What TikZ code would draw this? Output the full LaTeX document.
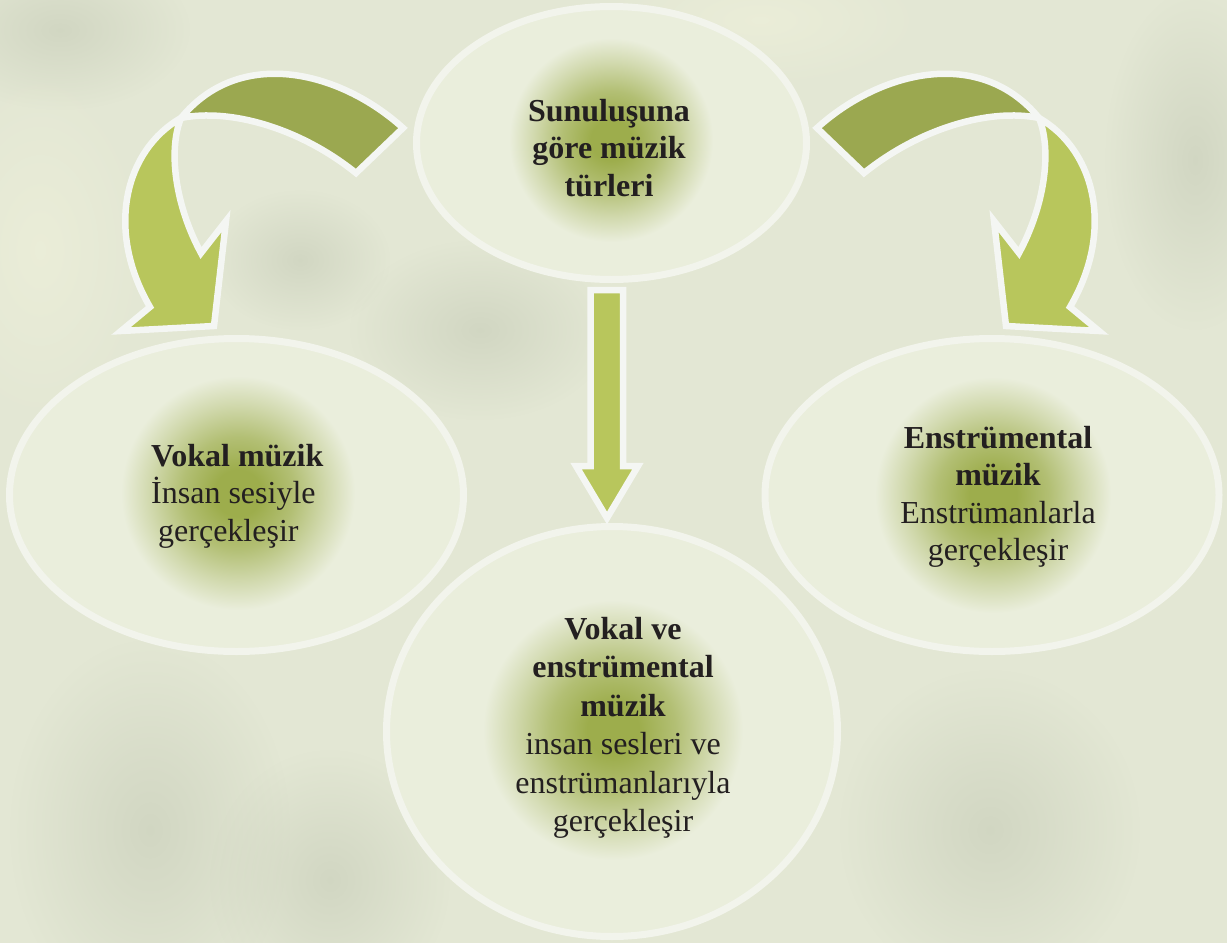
\documentclass[tikz,border=0pt]{standalone}
\usepackage{fontspec}
\setmainfont{Liberation Serif}
\usetikzlibrary{shapes.geometric,fadings}
\definecolor{bgc}{HTML}{E3E7D4}
\definecolor{blobc}{HTML}{C3C9B4}
\definecolor{blobl}{HTML}{EEF0DA}
\definecolor{ellfill}{HTML}{EAEEDC}
\definecolor{ellrim}{HTML}{F2F4EC}
\definecolor{glowc}{HTML}{9DAD4C}
\definecolor{darkarrow}{HTML}{9BA850}
\definecolor{lightarrow}{HTML}{B8C65C}
\definecolor{outlinec}{HTML}{F4F6F3}
\definecolor{txt}{HTML}{231F20}
\pgfdeclareradialshading{glow}{\pgfpoint{0bp}{0bp}}{color(0bp)=(glowc); color(5bp)=(glowc); color(12bp)=(glowc!72!ellfill); color(19bp)=(glowc!32!ellfill); color(25bp)=(ellfill); color(50bp)=(ellfill)}
\tikzfading[name=softfade, inner color=transparent!0, outer color=transparent!100]
\tikzset{
  bubble/.style={ellipse, fill=ellfill, draw=ellrim, line width=7pt, inner sep=0pt},
  arrowback/.style={fill=darkarrow, draw=outlinec, line width=6.5pt, line join=miter},
  arrowfront/.style={fill=lightarrow, draw=outlinec, line width=6.5pt, line join=miter},
  txtnode/.style={inner sep=0pt, anchor=base, text=txt, font=\fontsize{32}{37.5}\selectfont},
  blob/.style={fill=blobc, opacity=0.55, path fading=softfade},
  lblob/.style={fill=blobl, opacity=0.7, path fading=softfade}
}
\begin{document}
\begin{tikzpicture}[x=1pt, y=-1pt]
\useasboundingbox (0,0) rectangle (1227,943);
\fill[bgc] (0,0) rectangle (1227,943);
% soft background blobs
\fill[blob] (60,30) ellipse (130 and 80);
\fill[blob] (150,830) ellipse (140 and 190);
\fill[blob] (330,880) ellipse (120 and 130);
\fill[blob] (990,830) ellipse (150 and 160);
\fill[blob] (1195,160) ellipse (90 and 170);
\fill[blob] (480,330) ellipse (130 and 90);
\fill[blob] (300,260) ellipse (90 and 70);
\fill[lblob] (40,250) ellipse (110 and 180);
\fill[lblob] (760,20) ellipse (170 and 70);

% bubbles
\node[bubble, minimum width=390pt, minimum height=273pt] (top) at (611.5,143) {};
\node[bubble, minimum width=454pt, minimum height=313pt] (left) at (236.5,495) {};
\node[bubble, minimum width=454pt, minimum height=313pt] (right) at (992,495) {};
\node[bubble, minimum width=451pt, minimum height=410pt] (bottom) at (612,731.5) {};

% glows
\shade[shading=glow] (611,140) circle (102);
\shade[shading=glow] (238,493) circle (117);
\shade[shading=glow] (993,495) circle (118);
\shade[shading=glow] (613,730) circle (130);

% texts
\node[txtnode] (topT) at (609,121) {\begin{tabular}[t]{@{}c@{}}\textbf{Sunuluşuna}\\\textbf{göre müzik}\\\textbf{türleri}\end{tabular}};
\node[txtnode, anchor=base west] (leftT) at (151,466) {\begin{tabular}[t]{@{}l@{}}\textbf{Vokal müzik}\\İnsan sesiyle\\\hspace{7pt}gerçekleşir\end{tabular}};
\node[txtnode] (rightT) at (998,448) {\begin{tabular}[t]{@{}c@{}}\textbf{Enstrümental}\\\textbf{müzik}\\Enstrümanlarla\\gerçekleşir\end{tabular}};
\node[txtnode, font=\fontsize{32}{38.5}\selectfont] (bottomT) at (623,639) {\begin{tabular}[t]{@{}c@{}}\textbf{Vokal ve}\\\textbf{enstrümental}\\\textbf{müzik}\\insan sesleri ve\\enstrümanlarıyla\\gerçekleşir\end{tabular}};

% curved arrows (left one, and its mirror image on the right)
\foreach \sx/\ox in {1/0,-1/1220}{
  \begin{scope}[shift={(\ox,0)}]
  \begin{scope}[xscale=\sx]
    \draw[arrowback] (403,128) .. controls (340,71) and (240,46) .. (181,118)
       .. controls (230,108) and (300,128) .. (356,173) -- cycle;
    \draw[arrowfront] (181,118) .. controls (125,150) and (105,230) .. (150,307)
       -- (121,331) -- (214,326) -- (226,221) -- (201,253)
       .. controls (175,205) and (168,150) .. (181,118) -- cycle;
  \end{scope}
  \end{scope}
}

% straight arrow
\draw[arrowfront] (590.5,290) -- (623,290) -- (623,466) -- (638,466) -- (607,518) -- (576,466) -- (590.5,466) -- cycle;
\end{tikzpicture}
\end{document}
